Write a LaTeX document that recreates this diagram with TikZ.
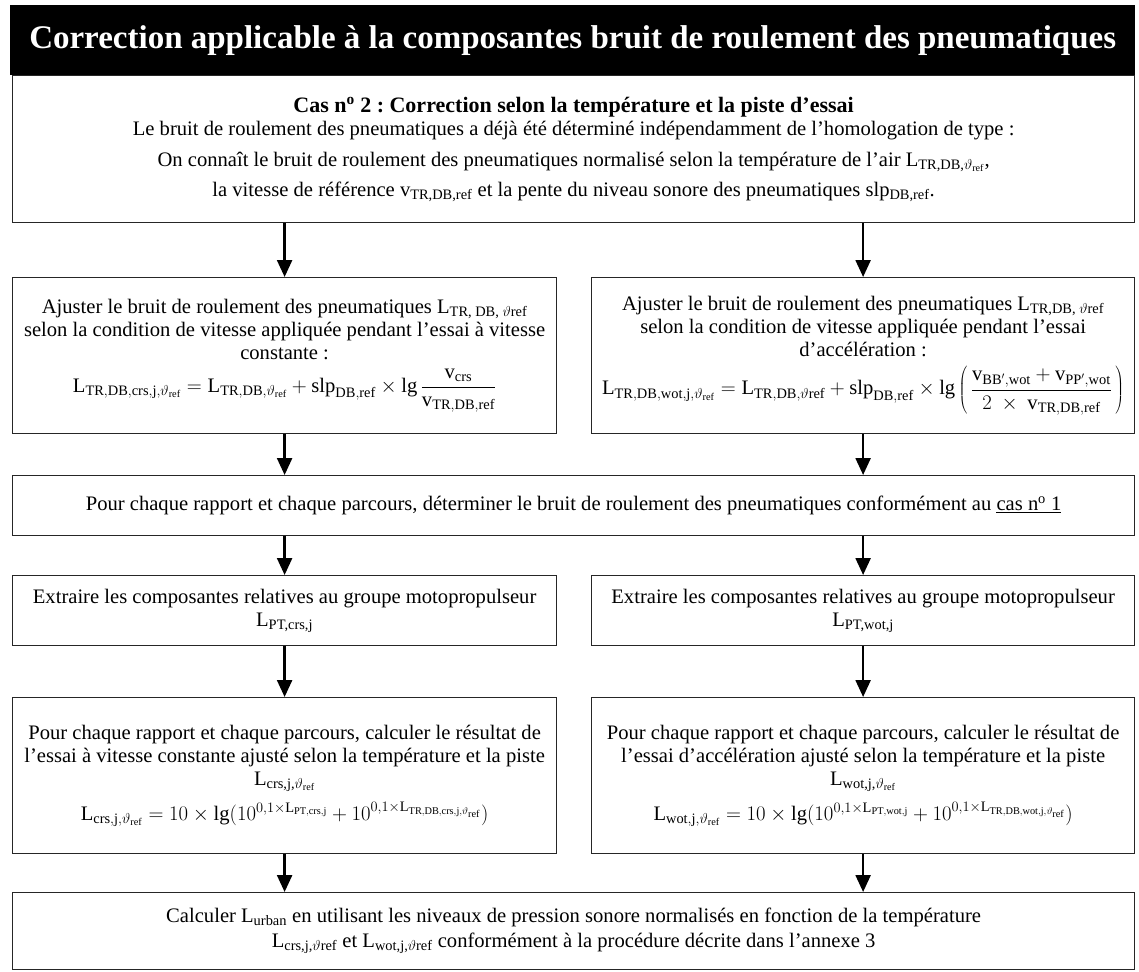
\documentclass[tikz,border=0pt]{standalone}
\usepackage{fontspec}
\setmainfont{Liberation Serif}
\usetikzlibrary{arrows.meta}
\newcommand{\vr}{$\vartheta_{\mathrm{ref}}$}
\frenchspacing
\begin{document}
\begin{tikzpicture}[x=1pt,y=-1pt,
  box/.style={draw=black!85, line width=1.2pt, anchor=north west, align=center,
    inner sep=0pt, font=\fontsize{20.6}{23}\selectfont},
  halfbox/.style={box, minimum width=544pt},
  fullbox/.style={box, minimum width=1122pt},
  flow/.style={-{Triangle[width=15pt,length=17pt]}, line width=2.4pt},
]
\useasboundingbox (0,0) rectangle (1139,971);

% title bar
\node[fill=black, text=white, anchor=north west, minimum width=1125pt,
  minimum height=70pt, inner sep=0pt,
  font=\bfseries\fontsize{33}{36}\selectfont] (head) at (10,5)
  {Correction applicable à la composantes bruit de roulement des pneumatiques};

% case description
\node[fullbox, minimum height=147pt] (cas) at (12,75)
  {{\bfseries\fontsize{22}{24}\selectfont Cas n\textsuperscript{o} 2 : Correction selon la température et la piste d’essai}\\
   Le bruit de roulement des pneumatiques a déjà été déterminé indépendamment de l’homologation de type :\\[8pt]
   On connaît le bruit de roulement des pneumatiques normalisé selon la température de l’air L\textsubscript{TR,DB,\vr},\\[7pt]
   la vitesse de référence v\textsubscript{TR,DB,ref} et la pente du niveau sonore des pneumatiques slp\textsubscript{DB,ref}.};

% speed adjustment
\node[halfbox, minimum height=156pt] (adjc) at (12,277)
  {Ajuster le bruit de roulement des pneumatiques L\textsubscript{TR, DB, $\vartheta$ref}\\
   selon la condition de vitesse appliquée pendant l’essai à vitesse\\
   constante :\\[8pt]
   $\displaystyle \mathrm{L}_{\mathrm{TR,DB,crs,j},\vartheta_{\mathrm{ref}}}
     = \mathrm{L}_{\mathrm{TR,DB},\vartheta_{\mathrm{ref}}}
     + \mathrm{slp}_{\mathrm{DB,ref}} \times \mathrm{lg}\,
     \frac{\mathrm{v}_{\mathrm{crs}}}{\mathrm{v}_{\mathrm{TR,DB,ref}}}$};
\node[box, minimum width=543pt, minimum height=156pt] (adjw) at (591,277)
  {Ajuster le bruit de roulement des pneumatiques L\textsubscript{TR,DB, $\vartheta$ref}\\
   selon la condition de vitesse appliquée pendant l’essai\\
   d’accélération :\\[8pt]
   $\displaystyle \mathrm{L}_{\mathrm{TR,DB,wot,j},\vartheta_{\mathrm{ref}}}
     = \mathrm{L}_{\mathrm{TR,DB,}\vartheta\mathrm{ref}}
     + \mathrm{slp}_{\mathrm{DB,ref}} \times \mathrm{lg}
     \left(\,\frac{\mathrm{v}_{\mathrm{BB}',\mathrm{wot}} + \mathrm{v}_{\mathrm{PP}',\mathrm{wot}}}
       {2\ \times\ \mathrm{v}_{\mathrm{TR,DB,ref}}}\,\right)$};

% per gear and run
\node[fullbox, minimum height=60pt] (gear) at (12,475)
  {Pour chaque rapport et chaque parcours, déterminer le bruit de roulement des pneumatiques conformément au \underline{cas n\textsuperscript{o} 1}};

% powertrain components
\node[halfbox, minimum height=70pt] (ptc) at (12,575)
  {Extraire les composantes relatives au groupe motopropulseur\\ L\textsubscript{PT,crs,j}};
\node[box, minimum width=543pt, minimum height=70pt] (ptw) at (591,575)
  {Extraire les composantes relatives au groupe motopropulseur\\ L\textsubscript{PT,wot,j}};

% adjusted results
\node[halfbox, minimum height=156pt] (resc) at (12,697)
  {Pour chaque rapport et chaque parcours, calculer le résultat de\\
   l’essai à vitesse constante ajusté selon la température et la piste\\
   L\textsubscript{crs,j,\vr}\\[10pt]
   $\mathrm{L}_{\mathrm{crs,j},\vartheta_{\mathrm{ref}}} = 10 \times \mathrm{lg}(10^{0{,}1\times\mathrm{L}_{\mathrm{PT,crs,j}}}
     + 10^{0{,}1\times\mathrm{L}_{\mathrm{TR,DB,crs,j},\vartheta_{\mathrm{ref}}}})$};
\node[box, minimum width=543pt, minimum height=156pt] (resw) at (591,697)
  {Pour chaque rapport et chaque parcours, calculer le résultat de\\
   l’essai d’accélération ajusté selon la température et la piste\\
   L\textsubscript{wot,j,\vr}\\[10pt]
   $\mathrm{L}_{\mathrm{wot,j},\vartheta_{\mathrm{ref}}} = 10 \times \mathrm{lg}(10^{0{,}1\times\mathrm{L}_{\mathrm{PT,wot,j}}}
     + 10^{0{,}1\times\mathrm{L}_{\mathrm{TR,DB,wot,j},\vartheta_{\mathrm{ref}}}})$};

% urban level
\node[fullbox, minimum height=77pt] (urb) at (12,892)
  {Calculer L\textsubscript{urban} en utilisant les niveaux de pression sonore normalisés en fonction de la température\\[2pt]
   L\textsubscript{crs,j,$\vartheta$ref} et L\textsubscript{wot,j,$\vartheta$ref} conformément à la procédure décrite dans l’annexe 3};

% connectors
\draw[flow] (adjc.north |- cas.south) -- (adjc.north);
\draw[flow] (adjw.north |- cas.south) -- (adjw.north);
\draw[flow] (adjc.south) -- (adjc.south |- gear.north);
\draw[flow] (adjw.south) -- (adjw.south |- gear.north);
\draw[flow] (ptc.north |- gear.south) -- (ptc.north);
\draw[flow] (ptw.north |- gear.south) -- (ptw.north);
\draw[flow] (ptc.south) -- (resc.north);
\draw[flow] (ptw.south) -- (resw.north);
\draw[flow] (resc.south) -- (resc.south |- urb.north);
\draw[flow] (resw.south) -- (resw.south |- urb.north);
\end{tikzpicture}
\end{document}
